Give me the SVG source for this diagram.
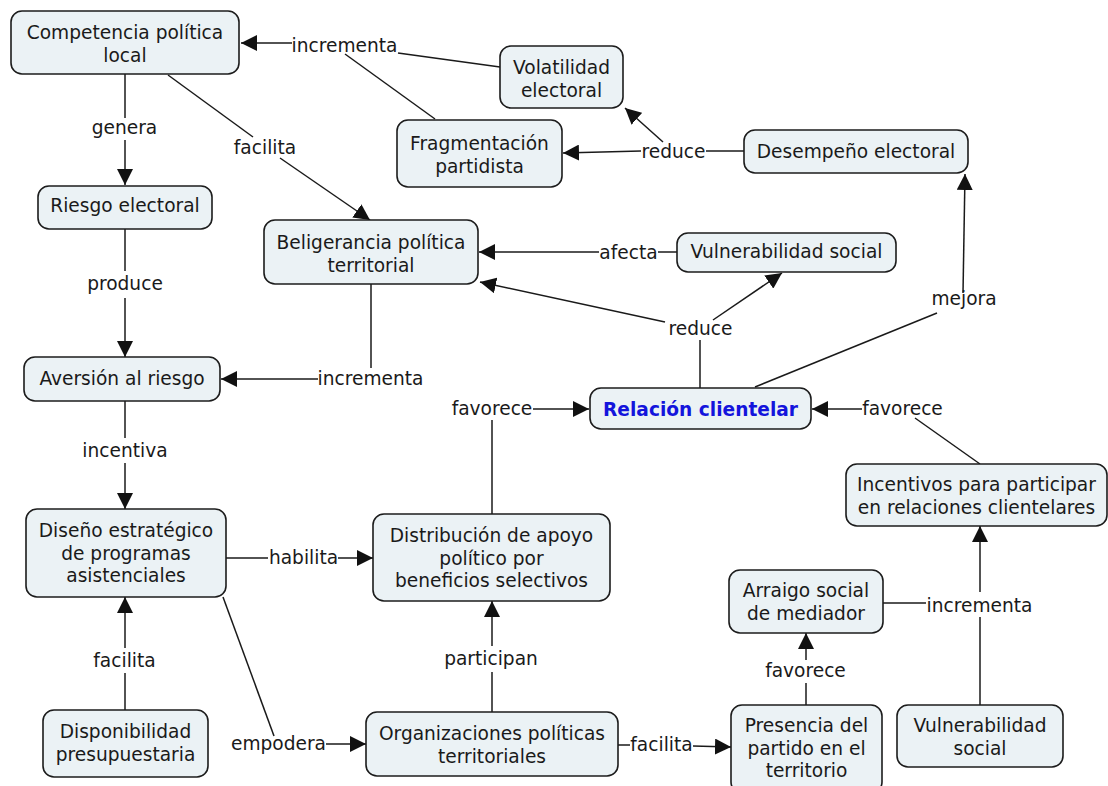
<svg xmlns="http://www.w3.org/2000/svg" width="1108" height="786" viewBox="0 0 1108 786">
<defs>
<marker id="ah" markerWidth="16" markerHeight="16" refX="16" refY="8" orient="auto" markerUnits="userSpaceOnUse"><path d="M0,0 L16,8 L0,16 z" fill="#111"/></marker>
<style>
.n rect{fill:#ebf2f5;stroke:#1c1c1c;stroke-width:1.6}
.n text,.lb text{font-family:"DejaVu Sans",Verdana,sans-serif;font-size:18.6px;fill:#1a1a1a;text-anchor:middle}
.n text.key{fill:#1414dc;font-weight:bold}
#connectors line{stroke:#1a1a1a;stroke-width:1.5;fill:none}
#connectors line.a{marker-end:url(#ah)}
</style>
</defs>
<rect width="1108" height="786" fill="#fff"/>
<g id="connectors">
<line x1="500" y1="67" x2="398" y2="53"/>
<line x1="435" y1="119" x2="345" y2="54"/>
<line class="a" x1="292" y1="43" x2="241" y2="43"/>
<line x1="125" y1="74" x2="125" y2="118"/>
<line class="a" x1="125" y1="140" x2="125" y2="185"/>
<line x1="168" y1="75" x2="253" y2="137"/>
<line class="a" x1="280" y1="158" x2="370" y2="220"/>
<line x1="744" y1="151" x2="706" y2="151"/>
<line class="a" x1="641" y1="151" x2="563" y2="153"/>
<line class="a" x1="663" y1="142" x2="625" y2="108"/>
<line x1="677" y1="252" x2="658" y2="252"/>
<line class="a" x1="599" y1="252" x2="479" y2="252"/>
<line x1="125" y1="229" x2="125" y2="271"/>
<line class="a" x1="125" y1="298" x2="125" y2="357"/>
<line x1="700" y1="388" x2="700" y2="340"/>
<line class="a" x1="713" y1="320" x2="782" y2="273"/>
<line class="a" x1="665" y1="322" x2="480" y2="282"/>
<line x1="755" y1="387" x2="937" y2="313"/>
<line class="a" x1="963" y1="293" x2="965" y2="174"/>
<line x1="371" y1="284" x2="371" y2="368"/>
<line class="a" x1="318" y1="379" x2="221" y2="379"/>
<line x1="125" y1="401" x2="125" y2="438"/>
<line class="a" x1="125" y1="463" x2="125" y2="509"/>
<line x1="492" y1="514" x2="492" y2="420"/>
<line class="a" x1="533" y1="409" x2="589" y2="409"/>
<line x1="980" y1="464" x2="915" y2="418"/>
<line class="a" x1="862" y1="409" x2="812" y2="409"/>
<line x1="226" y1="558" x2="268" y2="558"/>
<line class="a" x1="338" y1="558" x2="373" y2="558"/>
<line x1="125" y1="710" x2="125" y2="673"/>
<line class="a" x1="125" y1="648" x2="125" y2="597"/>
<line x1="223" y1="597" x2="274" y2="736"/>
<line class="a" x1="326" y1="744" x2="366" y2="744"/>
<line x1="492" y1="712" x2="492" y2="672"/>
<line class="a" x1="492" y1="646" x2="492" y2="601"/>
<line x1="618" y1="745" x2="630" y2="745"/>
<line class="a" x1="693" y1="746" x2="731" y2="747"/>
<line x1="806" y1="705" x2="806" y2="683"/>
<line class="a" x1="806" y1="660" x2="806" y2="633"/>
<line x1="883" y1="603" x2="926" y2="603"/>
<line x1="980" y1="705" x2="980" y2="617"/>
<line class="a" x1="980" y1="592" x2="980" y2="526"/>
</g>
<g id="labels" class="lb">
<text x="344.5" y="52">incrementa</text>
<text x="124.5" y="134">genera</text>
<text x="265" y="154">facilita</text>
<text x="673.5" y="158">reduce</text>
<text x="628.5" y="259">afecta</text>
<text x="125" y="290">produce</text>
<text x="700.5" y="335">reduce</text>
<text x="964" y="305">mejora</text>
<text x="370.5" y="385">incrementa</text>
<text x="492" y="415">favorece</text>
<text x="902.5" y="415">favorece</text>
<text x="125" y="457">incentiva</text>
<text x="303.5" y="564">habilita</text>
<text x="124.5" y="667">facilita</text>
<text x="491" y="665">participan</text>
<text x="805.5" y="677">favorece</text>
<text x="979.5" y="612">incrementa</text>
<text x="278.5" y="750">empodera</text>
<text x="661.5" y="751">facilita</text>
</g>
<g id="n-competencia" class="n"><rect x="11" y="11" width="228" height="63" rx="11"/><text x="125" y="39">Competencia política</text><text x="125" y="62">local</text></g>
<g id="n-volatilidad" class="n"><rect x="500" y="46" width="123" height="62" rx="11"/><text x="561.5" y="73.5">Volatilidad</text><text x="561.5" y="96.5">electoral</text></g>
<g id="n-fragmentacion" class="n"><rect x="397" y="120" width="165" height="67" rx="11"/><text x="479.5" y="149.5">Fragmentación</text><text x="479.5" y="172.5">partidista</text></g>
<g id="n-desempeno" class="n"><rect x="744" y="130" width="224" height="43" rx="11"/><text x="856" y="158">Desempeño electoral</text></g>
<g id="n-riesgo" class="n"><rect x="38" y="186" width="174" height="43" rx="11"/><text x="125" y="212">Riesgo electoral</text></g>
<g id="n-beligerancia" class="n"><rect x="264" y="220" width="214" height="64" rx="11"/><text x="371" y="249">Beligerancia política</text><text x="371" y="272">territorial</text></g>
<g id="n-vulnerabilidad1" class="n"><rect x="677" y="233" width="219" height="39" rx="11"/><text x="786.5" y="258">Vulnerabilidad social</text></g>
<g id="n-aversion" class="n"><rect x="24" y="357" width="196" height="44" rx="11"/><text x="122" y="385">Aversión al riesgo</text></g>
<g id="n-relacion" class="n"><rect x="590" y="388" width="221" height="41" rx="11"/><text class="key" x="700.5" y="416">Relación clientelar</text></g>
<g id="n-incentivos" class="n"><rect x="846" y="464" width="261" height="62" rx="11"/><text x="976.5" y="491">Incentivos para participar</text><text x="976.5" y="514">en relaciones clientelares</text></g>
<g id="n-diseno" class="n"><rect x="26" y="509" width="200" height="88" rx="11"/><text x="126" y="537">Diseño estratégico</text><text x="126" y="559.5">de programas</text><text x="126" y="582">asistenciales</text></g>
<g id="n-distribucion" class="n"><rect x="373" y="514" width="237" height="87" rx="11"/><text x="491.5" y="542">Distribución de apoyo</text><text x="491.5" y="564.5">político por</text><text x="491.5" y="587">beneficios selectivos</text></g>
<g id="n-arraigo" class="n"><rect x="729" y="570" width="154" height="63" rx="11"/><text x="806" y="597">Arraigo social</text><text x="806" y="620">de mediador</text></g>
<g id="n-disponibilidad" class="n"><rect x="43" y="710" width="165" height="67" rx="11"/><text x="125.5" y="738">Disponibilidad</text><text x="125.5" y="761">presupuestaria</text></g>
<g id="n-organizaciones" class="n"><rect x="366" y="712" width="252" height="64" rx="11"/><text x="492" y="740">Organizaciones políticas</text><text x="492" y="763">territoriales</text></g>
<g id="n-presencia" class="n"><rect x="731" y="705" width="151" height="88" rx="11"/><text x="806.5" y="732">Presencia del</text><text x="806.5" y="755">partido en el</text><text x="806.5" y="777">territorio</text></g>
<g id="n-vulnerabilidad2" class="n"><rect x="897" y="705" width="166" height="62" rx="11"/><text x="980" y="732">Vulnerabilidad</text><text x="980" y="755">social</text></g>
</svg>
